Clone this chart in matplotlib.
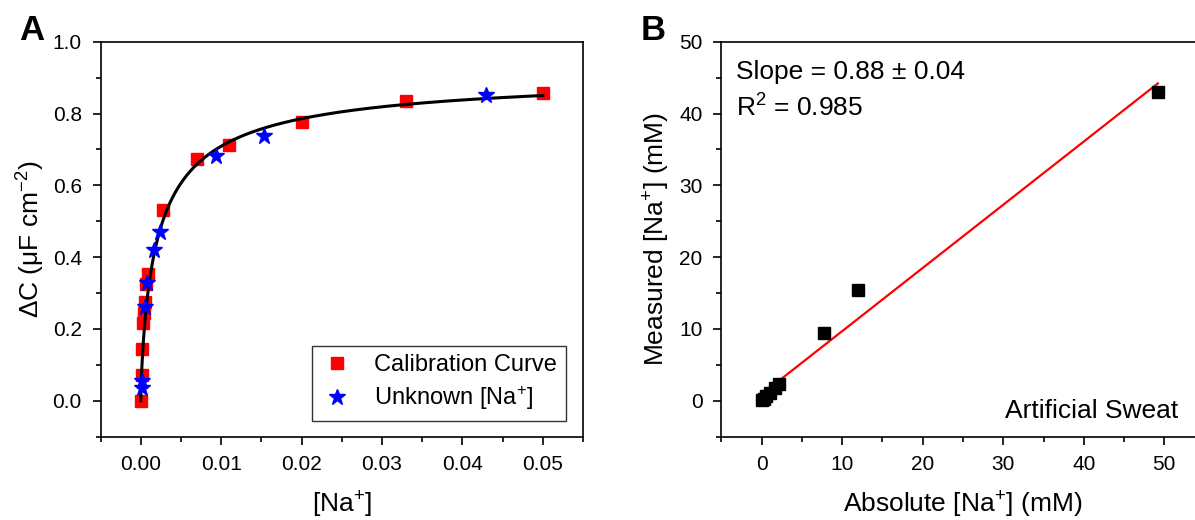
import numpy as np
import matplotlib
matplotlib.use("Agg")
import matplotlib.pyplot as plt
from matplotlib.ticker import MultipleLocator, FormatStrFormatter

plt.rcParams['font.family'] = ['Liberation Sans', 'DejaVu Sans']
plt.rcParams['mathtext.fontset'] = 'custom'
plt.rcParams['mathtext.rm'] = 'Liberation Sans'
plt.rcParams['mathtext.it'] = 'Liberation Sans:italic'
plt.rcParams['mathtext.bf'] = 'Liberation Sans:bold'

# ---- Panel A data ----
cal_x = [0.0, 0.0001, 0.0002, 0.0003, 0.0004, 0.0005, 0.0007, 0.0009, 0.0028, 0.0070, 0.0110, 0.0200, 0.0330, 0.0500]
cal_y = [0.0, 0.073, 0.145, 0.218, 0.245, 0.275, 0.324, 0.354, 0.530, 0.674, 0.713, 0.777, 0.835, 0.858]
unk_x = [0.0001, 0.0001, 0.0005, 0.0008, 0.0017, 0.0024, 0.0094, 0.0153, 0.0429]
unk_y = [0.035, 0.054, 0.260, 0.327, 0.420, 0.471, 0.682, 0.738, 0.851]
# Hill fit parameters of the calibration curve
fit_A, fit_K, fit_n = 0.92, 0.0022, 0.80

# ---- Panel B data ----
abs_x = [0.0, 0.25, 0.5, 1.0, 1.6, 2.1, 7.7, 11.9, 49.2]
meas_y = [0.05, 0.3, 0.6, 1.1, 1.8, 2.3, 9.5, 15.4, 43.0]
lin_slope, lin_icpt = 0.88, 0.9
lin_range = [0.0, 49.2]

W, H = 1195, 520
fig = plt.figure(figsize=(W / 100, H / 100), dpi=100)

def px_axes(l, r, t, b):
    return fig.add_axes([l / W, 1 - b / H, (r - l) / W, (b - t) / H])

def style(ax):
    for s in ax.spines.values():
        s.set_linewidth(1.2)
    ax.tick_params(which='both', direction='out', top=False, right=False, width=1.2)
    ax.tick_params(which='major', length=5.5, labelsize=15, pad=8)
    ax.tick_params(which='minor', length=3.5)

# Panel A
axA = px_axes(100.5, 583, 41.7, 436.7)
xf = np.linspace(0, 0.05, 600)
yf = fit_A * xf**fit_n / (fit_K**fit_n + xf**fit_n)
axA.plot(xf, yf, color='black', lw=2.2, zorder=3)
axA.plot(cal_x, cal_y, 's', color='#ff0000', ms=9, mec='#ff0000', ls='none', label='Calibration Curve', zorder=2)
axA.plot(unk_x, unk_y, '*', color='#0000ff', ms=12, mec='#0000ff', ls='none', label='Unknown [Na$^{+}$]', zorder=4)
axA.set_xlim(-0.005, 0.055)
axA.set_ylim(-0.1, 1.0)
axA.xaxis.set_major_locator(MultipleLocator(0.01))
axA.xaxis.set_minor_locator(MultipleLocator(0.005))
axA.yaxis.set_major_locator(MultipleLocator(0.2))
axA.yaxis.set_minor_locator(MultipleLocator(0.1))
axA.xaxis.set_major_formatter(FormatStrFormatter('%.2f'))
axA.yaxis.set_major_formatter(FormatStrFormatter('%.1f'))
style(axA)
axA.set_xlabel('[Na$^{+}$]', fontsize=19, labelpad=11)
axA.set_ylabel('ΔC (μF cm$^{-2}$)', fontsize=19, labelpad=4)
leg = axA.legend(loc='lower right', bbox_to_anchor=(0.964, 0.0405), borderaxespad=0,
                 fontsize=17, frameon=True, fancybox=False, framealpha=1,
                 edgecolor='#333333', handletextpad=0.9, borderpad=0.35,
                 labelspacing=0.35, handlelength=1.4)
leg.get_frame().set_linewidth(1.0)

# Panel B
axB = px_axes(721.4, 1204.6, 41.7, 436.7)
lx = np.array(lin_range)
axB.plot(lx, lin_slope * lx + lin_icpt, color='#ff0000', lw=1.6, zorder=2)
axB.plot(abs_x, meas_y, 's', color='black', ms=8.5, ls='none', zorder=3)
axB.set_xlim(-5, 55)
axB.set_ylim(-5, 50)
axB.xaxis.set_major_locator(MultipleLocator(10))
axB.xaxis.set_minor_locator(MultipleLocator(5))
axB.yaxis.set_major_locator(MultipleLocator(10))
axB.yaxis.set_minor_locator(MultipleLocator(5))
style(axB)
axB.set_xlabel('Absolute [Na$^{+}$] (mM)', fontsize=19, labelpad=11)
axB.set_ylabel('Measured [Na$^{+}$] (mM)', fontsize=19, labelpad=5)
axB.text(0.03, 0.905, 'Slope = 0.88 ± 0.04', transform=axB.transAxes, fontsize=19, va='baseline', ha='left')
axB.text(0.03, 0.81, 'R$^{2}$ = 0.985', transform=axB.transAxes, fontsize=19, va='baseline', ha='left')
fig.text(1178.7 / W, 1 - 417.7 / H, 'Artificial Sweat', fontsize=19, ha='right', va='baseline')

fig.text(19 / W, 1 - 40 / H, 'A', fontsize=25, fontweight='bold', ha='left', va='baseline')
fig.text(641 / W, 1 - 40 / H, 'B', fontsize=25, fontweight='bold', ha='left', va='baseline')

fig.savefig('out.png', dpi=100)
